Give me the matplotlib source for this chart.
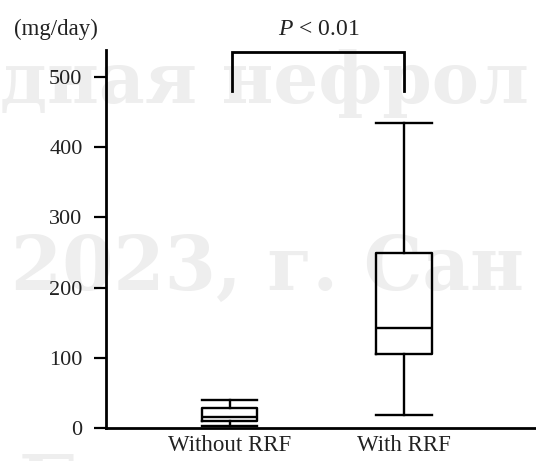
import matplotlib
matplotlib.use("Agg")
import matplotlib.pyplot as plt

plt.rcParams['font.family'] = ['Liberation Serif', 'DejaVu Serif']
plt.rcParams['mathtext.fontset'] = 'custom'
plt.rcParams['mathtext.it'] = 'Liberation Serif:italic'
plt.rcParams['mathtext.rm'] = 'Liberation Serif'

categories = ["Without RRF", "With RRF"]
whisker_low = [3, 19]
q1 = [10, 106]
median = [16, 143]
q3 = [29, 249]
whisker_high = [40, 434]
yticks = [0, 100, 200, 300, 400, 500]
p_label = "$P$ < 0.01"
unit_label = "(mg/day)"
watermark = ["дная нефрол", "2023, г. Сан", "Б"]

fig = plt.figure(figsize=(5.36, 4.61), dpi=100)
ax = fig.add_axes([0.198, 0.0716, 0.802, 0.8189])
ax.patch.set_alpha(0)

# faint watermark (background)
wm_color = "#eeeeee"
wm_kw = dict(fontweight='bold', color=wm_color, zorder=-5, family='DejaVu Serif')
fig.text(0.0, 0.777, watermark[0], fontsize=51, **wm_kw)
fig.text(0.02, 0.372, watermark[1], fontsize=53, **wm_kw)
fig.text(0.035, -0.10, watermark[2], fontsize=52, **wm_kw)

stats = []
for i, c in enumerate(categories):
    stats.append(dict(label=c, whislo=whisker_low[i], q1=q1[i], med=median[i],
                      q3=q3[i], whishi=whisker_high[i], fliers=[]))
positions = [1, 2]
lw = 1.7
ax.bxp(stats, positions=positions, widths=0.32, capwidths=0.32, showfliers=False,
       boxprops=dict(color='black', linewidth=lw),
       whiskerprops=dict(color='black', linewidth=lw),
       capprops=dict(color='black', linewidth=lw),
       medianprops=dict(color='black', linewidth=lw))

ax.set_xlim(0.291, 2.76)
ax.set_ylim(0, 538)
ax.set_yticks(yticks)
ax.set_xticks(positions)
ax.set_xticklabels(categories)

for s in ['top', 'right']:
    ax.spines[s].set_visible(False)
for s in ['left', 'bottom']:
    ax.spines[s].set_linewidth(2.0)
ax.tick_params(axis='y', direction='out', length=9, width=1.6, labelsize=16,
               labelcolor='#222222', pad=8)
ax.tick_params(axis='x', length=0, labelsize=16.5, labelcolor='#222222', pad=5)

# significance bracket
ax.plot([1.012, 1.012, 2.0, 2.0], [480, 536, 536, 480], color='black',
        linewidth=2.0, clip_on=False, solid_joinstyle='miter')
ax.text(1.51, 553, p_label, ha='center', va='bottom', fontsize=17, color='#222222')

fig.text(0.026, 0.937, unit_label, ha='left', va='center', fontsize=16.5, color='#222222')

fig.savefig("out.png", dpi=100)
